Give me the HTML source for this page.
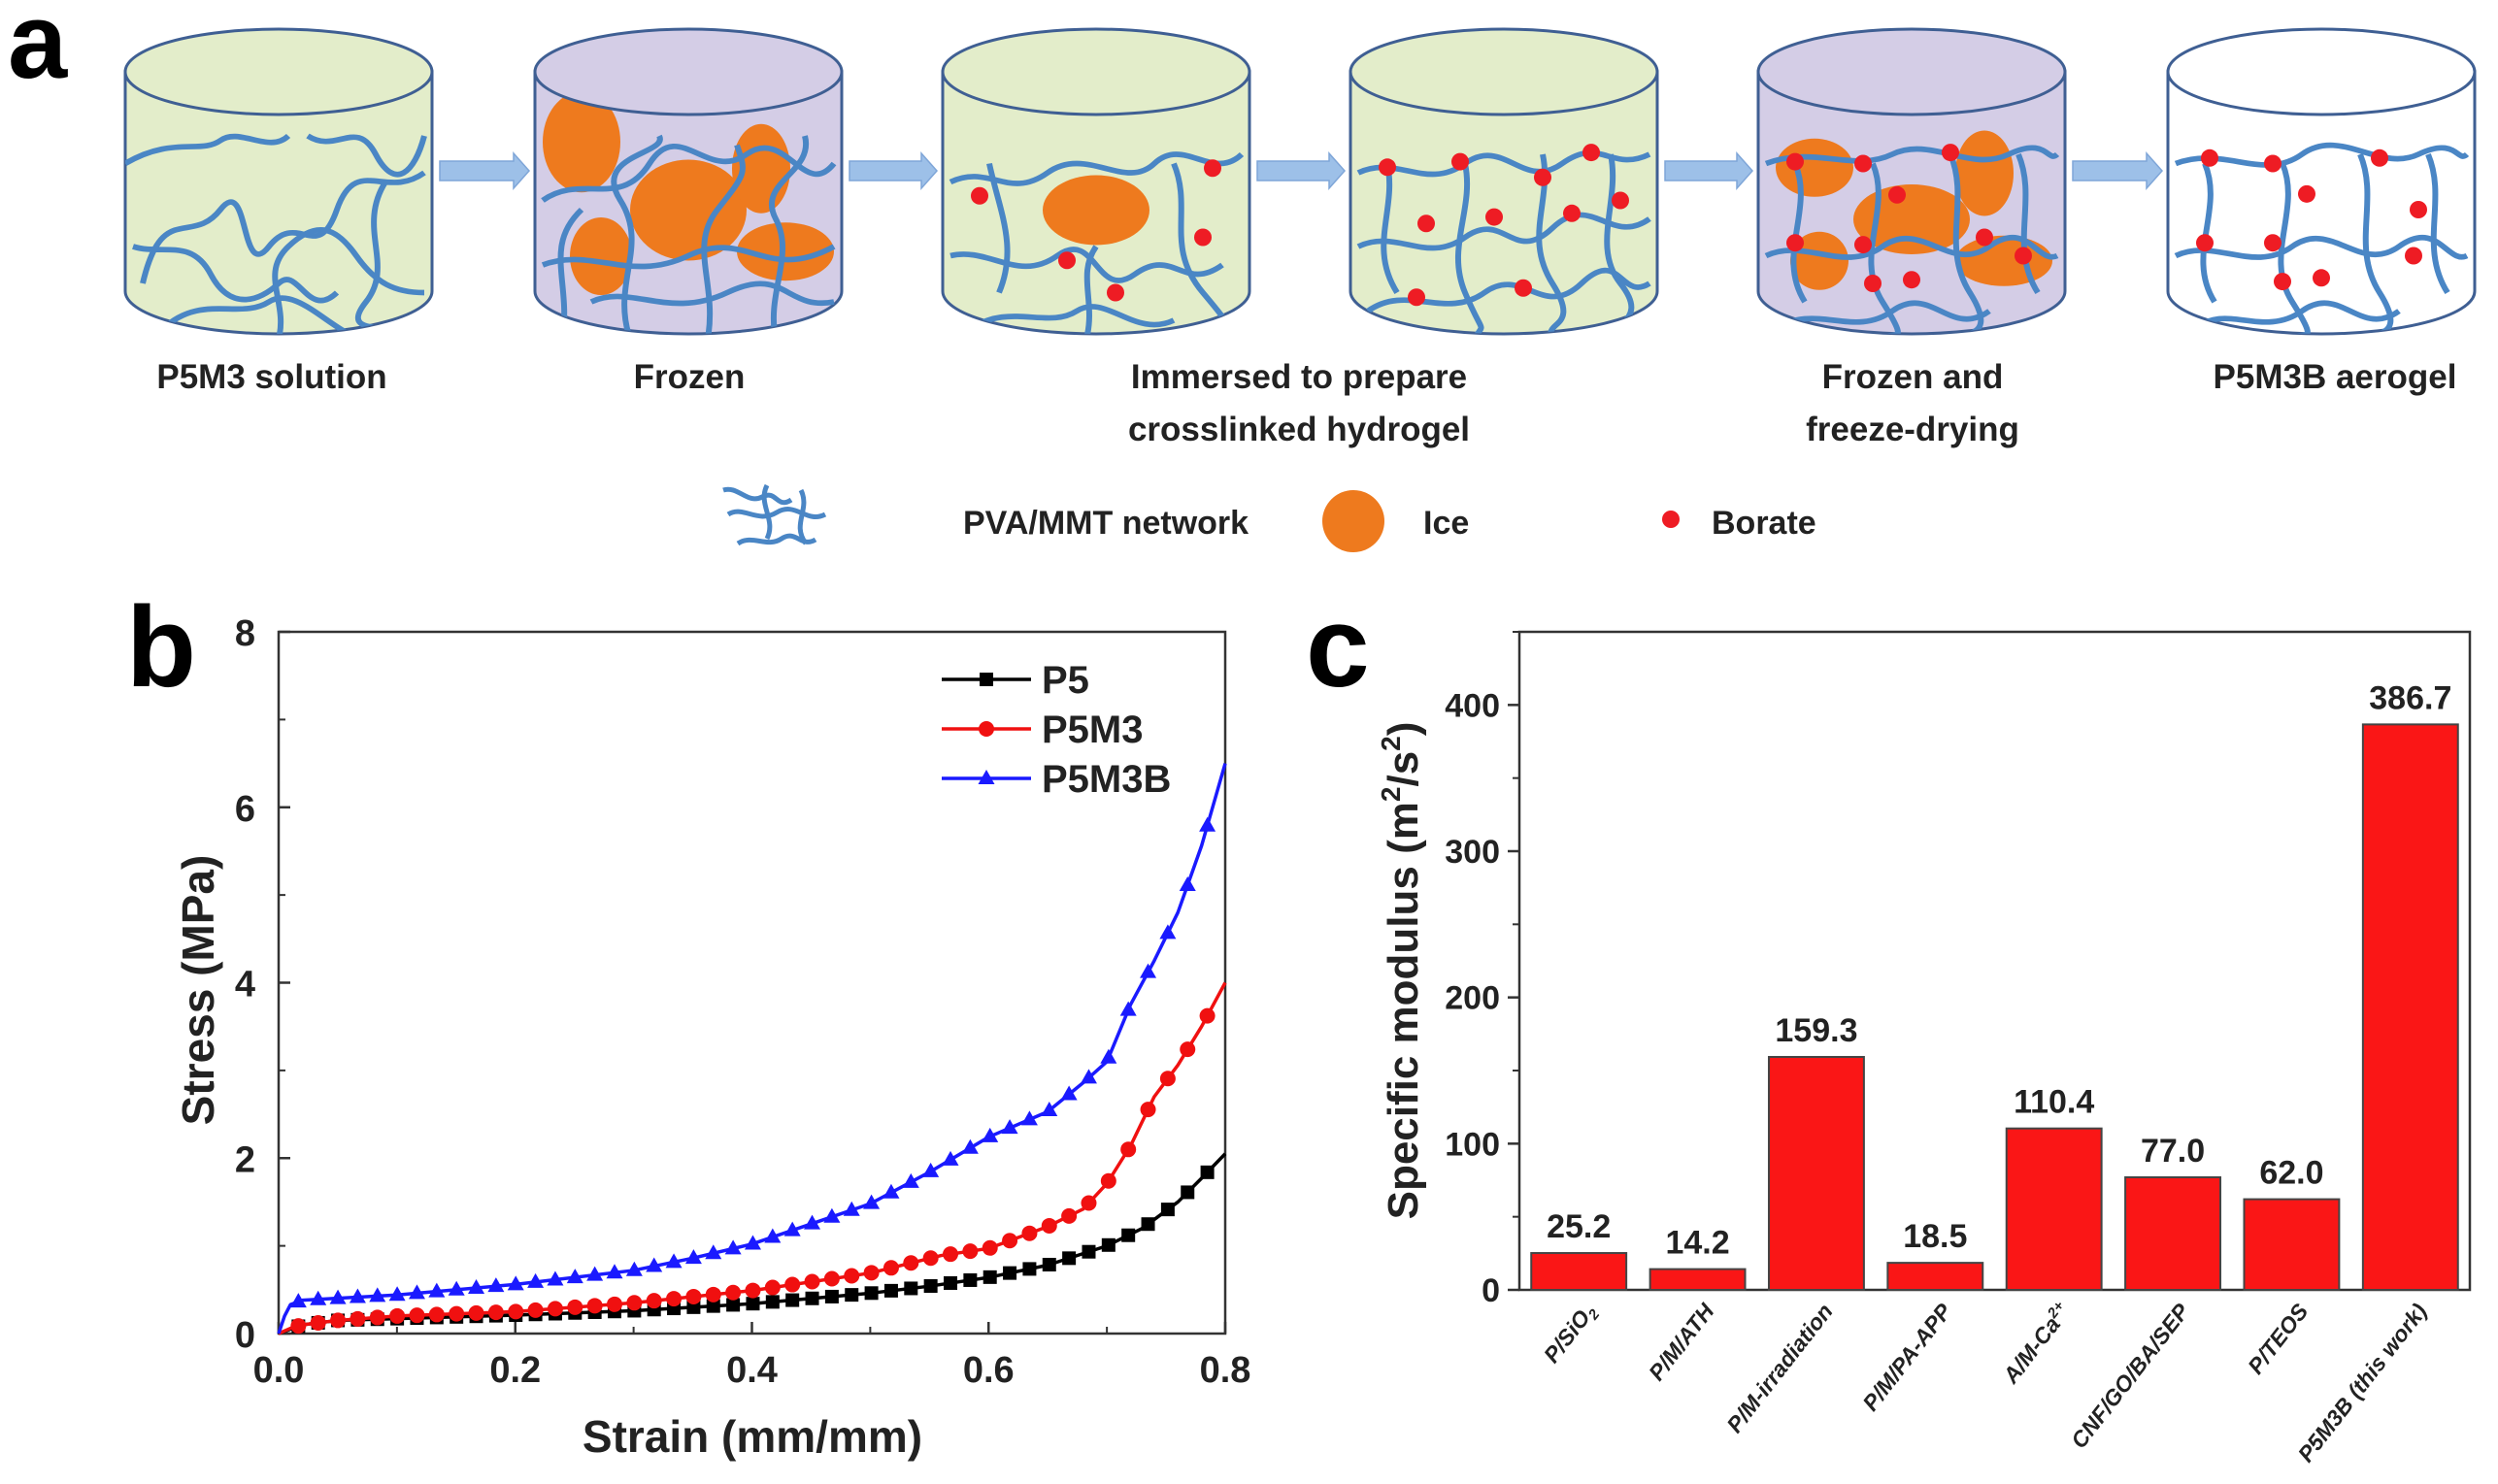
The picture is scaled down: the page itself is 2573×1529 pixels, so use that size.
<!DOCTYPE html>
<html><head><meta charset="utf-8"><style>
body{margin:0;background:#fff;width:2573px;height:1529px;overflow:hidden}
svg{display:block}
text{font-family:"Liberation Sans",Arial,sans-serif}
</style></head><body>
<svg id="fig" width="2573" height="1529" viewBox="0 0 2573 1529">
<g id="panelA"></g>
<g id="panelB"></g>
<g id="panelC"></g>
</svg>
<script>
// ---------- Panel b data ----------
const strainP5 = [0,0.01,0.02,0.05,0.1,0.2,0.3,0.4,0.5,0.55,0.6,0.65,0.7,0.73,0.76,0.78,0.8];
const stressP5 = [0,0.05,0.1,0.15,0.17,0.21,0.26,0.34,0.46,0.54,0.64,0.78,1.0,1.2,1.5,1.77,2.05];
const strainP5M3 = [0,0.01,0.02,0.05,0.1,0.2,0.3,0.4,0.5,0.56,0.6,0.65,0.68,0.7,0.72,0.74,0.76,0.78,0.8];
const stressP5M3 = [0,0.06,0.1,0.15,0.2,0.25,0.35,0.49,0.69,0.89,0.97,1.22,1.42,1.71,2.14,2.7,3.06,3.5,4.0];
const strainP5M3B = [0,0.005,0.01,0.02,0.1,0.2,0.3,0.35,0.4,0.45,0.5,0.55,0.6,0.65,0.68,0.7,0.72,0.74,0.76,0.78,0.8];
const stressP5M3B = [0,0.2,0.33,0.38,0.44,0.56,0.72,0.86,1.02,1.25,1.48,1.84,2.24,2.53,2.86,3.1,3.75,4.25,4.8,5.56,6.5];
const xTicksB = [0,0.2,0.4,0.6,0.8];
const xTickLabelsB = ["0.0","0.2","0.4","0.6","0.8"];
const yTicksB = [0,2,4,6,8];
const yTickLabelsB = ["0","2","4","6","8"];
// ---------- Panel c data ----------
const categoriesC = ["P/SiO","P/M/ATH","P/M-irradiation","P/M/PA-APP","A/M-Ca","CNF/GO/BA/SEP","P/TEOS","P5M3B (this work)"];
const valuesC = [25.2,14.2,159.3,18.5,110.4,77.0,62.0,386.7];
const valueLabelsC = ["25.2","14.2","159.3","18.5","110.4","77.0","62.0","386.7"];
const yTicksC = [0,100,200,300,400];
const yTickLabelsC = ["0","100","200","300","400"];

const NS="http://www.w3.org/2000/svg";
function mk(tag,attrs,parent){const e=document.createElementNS(NS,tag);for(const k in attrs)e.setAttribute(k,attrs[k]);if(parent)parent.appendChild(e);return e;}

// ================= Panel A =================
(function(){
const g=document.getElementById('panelA');
const t=mk('text',{x:8,y:80,'font-size':110,'font-weight':'bold'},g);t.textContent='a';


const centers=[287,709,1129,1549,1969,2391];
const fills=['#e3edca','#d4cde6','#e3edca','#e3edca','#d4cde6','#ffffff'];
const rx=158, topY=74, botY=300, ry=44;
const nets=[
 ["M-158,110 C-110,80 -80,100 -60,85 S-10,100 10,80","M-140,240 C-120,150 -90,200 -60,160 S-40,240 -10,200 S40,220 60,160 S110,150 150,120","M-150,200 C-120,210 -90,190 -70,230 S-20,260 0,240 S30,280 60,250","M-120,290 C-80,250 -40,280 -10,260 S60,300 90,300","M30,80 C60,100 80,60 100,100 S140,120 150,80","M0,300 C10,260 -20,230 10,200 S60,180 80,210 S120,250 150,250","M110,130 C80,180 120,220 90,260 S120,280 140,300"],
 ["M-150,150 C-110,120 -70,160 -40,110 S20,130 60,100 S120,150 150,110","M-130,300 C-120,240 -150,200 -110,160","M-60,300 C-80,240 -40,200 -70,150 S-20,100 -30,80","M-150,220 C-100,200 -60,240 0,210 S80,240 150,200","M20,300 C30,240 0,200 30,160 S60,120 50,90","M90,300 C80,250 110,210 90,170 S130,120 120,80","M-100,260 C-60,240 -20,280 40,250 S100,270 150,260"],
 ["M-150,130 C-110,110 -90,150 -50,120 S30,140 60,110 S120,130 150,100","M-150,210 C-110,200 -80,240 -40,210 S0,260 40,230 S90,250 130,220","M-130,290 C-90,260 -50,290 -20,270 S40,300 80,280","M-110,110 C-100,160 -80,200 -100,250","M80,110 C100,160 70,200 110,250 S130,280 140,300","M-10,300 C0,260 -20,230 0,200"],
 ["M-150,120 C-110,100 -80,140 -40,110 S20,140 60,110 S110,120 150,100","M-150,200 C-110,180 -80,220 -40,190 S10,220 50,180 S110,200 150,170","M-140,270 C-100,240 -60,280 -20,250 S40,280 80,240 S120,260 150,240","M-120,110 C-110,160 -140,200 -110,250","M-40,110 C-30,160 -60,200 -40,250 S-20,280 -30,300","M40,100 C50,150 20,190 50,240 S40,280 50,300","M110,100 C120,150 90,200 120,240 S110,280 120,300"],
 ["M-150,110 C-100,90 -60,120 -20,100 S60,120 100,100 S140,110 150,100","M-150,210 C-110,190 -70,230 -30,200 S40,230 80,200 S130,220 150,210","M-140,290 C-100,260 -60,300 -20,270 S40,300 80,270","M-120,110 C-100,160 -140,210 -110,260","M-40,110 C-20,160 -60,210 -30,260 S-20,290 -30,300","M40,100 C60,150 30,200 60,250 S50,290 60,300","M110,100 C130,150 100,200 130,250"],
 ["M-150,110 C-100,90 -60,130 -20,100 S60,120 100,100 S140,110 150,100","M-150,210 C-110,190 -70,230 -30,200 S40,230 80,200 S130,220 150,210","M-130,290 C-100,260 -60,300 -20,270 S40,300 80,270","M-120,110 C-100,160 -140,210 -110,260","M-40,110 C-20,160 -60,210 -30,260 S-20,290 -30,300","M40,100 C60,150 30,200 60,250 S50,290 60,300","M110,100 C130,150 100,200 130,250"]
];
const ices=[[],[[-110,76,40,52],[0,150,60,52],[75,105,30,46],[-90,200,32,40],[100,195,50,30]],[[0,150,55,36]],[],[[-100,104,40,30],[75,110,30,44],[0,160,60,36],[-95,205,30,30],[95,205,50,26]],[]];
const dots=[[],[],[[-120,145],[120,115],[110,190],[-30,215],[20,250]],[[-120,114],[-45,108],[40,125],[90,98],[-80,175],[-10,168],[70,164],[120,150],[-90,255],[20,245]],[[-120,108],[-50,110],[40,98],[-15,144],[-120,196],[-50,198],[75,190],[115,210],[-40,240],[0,236]],[[-115,104],[-50,110],[60,104],[-15,143],[-120,196],[-50,196],[100,160],[95,210],[-40,238],[0,234]]];
const labels=[["P5M3 solution"],["Frozen"],["Immersed to prepare","crosslinked hydrogel"],[],["Frozen and","freeze-drying"],["P5M3B aerogel"]];
const labelX=[280,710,1338,0,1970,2405];
const names=['p5m3-solution','frozen','crosslinked-hydrogel','hydrogel','frozen-freeze-dried','p5m3b-aerogel'];
centers.forEach((cx,i)=>{
  const cg=mk('g',{},g);
  
  
  mk('path',{d:`M${cx-rx},${topY} L${cx-rx},${botY} A${rx},${ry} 0 0 0 ${cx+rx},${botY} L${cx+rx},${topY} Z`,fill:fills[i],stroke:'#3f5f93','stroke-width':3},cg);
  const clip=mk('clipPath',{id:'cl'+i},cg);
  mk('path',{d:`M${cx-rx},${topY} L${cx-rx},${botY} A${rx},${ry} 0 0 0 ${cx+rx},${botY} L${cx+rx},${topY} Z`},clip);
  const inner=mk('g',{'clip-path':`url(#cl${i})`},cg);
  ices[i].forEach(e=>mk('ellipse',{cx:cx+e[0],cy:topY+e[1]*0.95,rx:e[2],ry:e[3],fill:'#ee7a1e'},inner));
  nets[i].forEach(d=>{
    mk('path',{d:d,fill:'none',stroke:'#4a86c5','stroke-width':6,transform:`translate(${cx},${topY-10}) scale(1,0.95)`},inner);
  });
  dots[i].forEach(d=>mk('circle',{cx:cx+d[0],cy:topY-10+d[1]*0.95,r:9,fill:'#ee1c24'},inner));
  mk('ellipse',{cx:cx,cy:topY,rx:rx,ry:ry,fill:fills[i],stroke:'#3f5f93','stroke-width':3},cg);
  labels[i].forEach((s,j)=>{
    const tt=mk('text',{x:labelX[i],y:400+j*54,'font-size':35,'font-weight':'bold','text-anchor':'middle',fill:'#222'},g);
    tt.textContent=s;
    
    
  });
  if(i<5){
    const ax=cx+rx+8, bx=centers[i+1]-rx-6, ay=176;
    const ar=mk('path',{d:`M${ax},${ay-10} L${bx-16},${ay-10} L${bx-16},${ay-18} L${bx},${ay} L${bx-16},${ay+18} L${bx-16},${ay+10} L${ax},${ay+10} Z`,fill:'#9dc0e8',stroke:'#7fa6d8','stroke-width':1.5},g);
    
    
  }
});
const lg=mk('g',{},g);


["M745,505 C760,500 770,520 785,512 S800,525 815,515","M750,530 C765,520 780,540 800,528 S830,540 850,530","M760,560 C775,550 790,565 805,555 S825,565 840,556","M790,500 C780,520 800,535 790,555","M825,505 C835,525 815,540 830,560"].forEach(d=>mk('path',{d:d,fill:'none',stroke:'#4a86c5','stroke-width':5},lg));
let lt=mk('text',{x:992,y:550,'font-size':34,'font-weight':'bold',fill:'#222'},lg);lt.textContent='PVA/MMT network';
mk('ellipse',{cx:1394,cy:537,rx:32,ry:32,fill:'#ee7a1e'},lg);
lt=mk('text',{x:1466,y:550,'font-size':34,'font-weight':'bold',fill:'#222'},lg);lt.textContent='Ice';
mk('circle',{cx:1721,cy:535,r:9,fill:'#ee1c24'},lg);
lt=mk('text',{x:1763,y:550,'font-size':34,'font-weight':'bold',fill:'#222'},lg);lt.textContent='Borate';
})();

// ================= Panel B =================
(function(){
const g=document.getElementById('panelB');
const X0=287,X1=1262,Y0=1374,Y1=651;
const xs=v=>X0+(v-0)/(0.8-0)*(X1-X0);
const ys=v=>Y0-(v-0)/(8-0)*(Y0-Y1);
let t=mk('text',{x:130,y:707,'font-size':118,'font-weight':'bold'},g);t.textContent='b';

const fr=mk('rect',{x:X0,y:Y1,width:X1-X0,height:Y0-Y1,fill:'none',stroke:'#333','stroke-width':2.5},g);

xTicksB.forEach((v,i)=>{
  mk('line',{x1:xs(v),x2:xs(v),y1:Y0,y2:Y0-12,stroke:'#333','stroke-width':2.5},g);
  if(i<xTicksB.length-1) mk('line',{x1:xs(v+0.1),x2:xs(v+0.1),y1:Y0,y2:Y0-7,stroke:'#333','stroke-width':2},g);
  const tl=mk('text',{x:xs(v),y:Y0+50,'font-size':38,'font-weight':'bold','text-anchor':'middle',fill:'#222'},g);
  tl.textContent=xTickLabelsB[i];
  
});
yTicksB.forEach((v,i)=>{
  mk('line',{x1:X0,x2:X0+12,y1:ys(v),y2:ys(v),stroke:'#333','stroke-width':2.5},g);
  if(i<yTicksB.length-1) mk('line',{x1:X0,x2:X0+7,y1:ys(v+1),y2:ys(v+1),stroke:'#333','stroke-width':2},g);
  const tl=mk('text',{x:X0-24,y:ys(v)+14,'font-size':38,'font-weight':'bold','text-anchor':'end',fill:'#222'},g);
  tl.textContent=yTickLabelsB[i];
  
});
t=mk('text',{x:775,y:1496,'font-size':46,'font-weight':'bold','text-anchor':'middle',fill:'#222'},g);t.textContent='Strain (mm/mm)';

t=mk('text',{x:0,y:0,'font-size':46,'font-weight':'bold','text-anchor':'middle',fill:'#222',transform:'translate(220,1020) rotate(-90)'},g);t.textContent='Stress (MPa)';

const series=[
 {n:'p5',sx:strainP5,sy:stressP5,c:'#000',m:'sq'},
 {n:'p5m3',sx:strainP5M3,sy:stressP5M3,c:'#f01010',m:'ci'},
 {n:'p5m3b',sx:strainP5M3B,sy:stressP5M3B,c:'#1a1aff',m:'tr'}];
function marker(par,m,x,y,c){
  let e;
  if(m==='sq') e=mk('rect',{x:x-7,y:y-7,width:14,height:14,fill:c},par);
  else if(m==='ci') e=mk('circle',{cx:x,cy:y,r:8,fill:c},par);
  else e=mk('path',{d:`M${x},${y-9} L${x+8.5},${y+6} L${x-8.5},${y+6} Z`,fill:c},par);
  return e;
}
function interp(sx,sy,v){for(let i=1;i<sx.length;i++){if(v<=sx[i]){const f=(v-sx[i-1])/(sx[i]-sx[i-1]);return sy[i-1]+f*(sy[i]-sy[i-1]);}}return sy[sy.length-1];}
series.forEach(s=>{
  const sg=mk('g',{},g);
  
  const pts=s.sx.map((v,i)=>xs(v)+','+ys(s.sy[i])).join(' ');
  const pl=mk('polyline',{points:pts,fill:'none',stroke:s.c,'stroke-width':3.5,'stroke-linejoin':'round'},sg);
  
  const maxX=s.sx[s.sx.length-1];
  for(let k=1;k<=48;k++){const v=0.0167*k; if(v>maxX+1e-6) break;
    const mm=marker(sg,s.m,xs(v),ys(interp(s.sx,s.sy,v)),s.c);
    }
});
const leg=mk('g',{},g);

series.forEach((s,i)=>{
  const y=700+i*51;
  const le=mk('g',{},leg);
  
  mk('line',{x1:970,x2:1062,y1:y,y2:y,stroke:s.c,'stroke-width':3.5},le);
  marker(le,s.m,1016,y,s.c);
  const tx=mk('text',{x:1073,y:y+14,'font-size':40,'font-weight':'bold',fill:'#222'},le);
  tx.textContent=['P5','P5M3','P5M3B'][i];
});
})();

// ================= Panel C =================
(function(){
const g=document.getElementById('panelC');
const X0=1565,X1=2544,Y0=1329,Y1=651,YMAX=450;
const ys=v=>Y0-v/YMAX*(Y0-Y1);
const band=(X1-X0)/categoriesC.length;
const xc=i=>X0+band*(i+0.5);
let t=mk('text',{x:1345,y:707,'font-size':118,'font-weight':'bold'},g);t.textContent='c';

const fr=mk('rect',{x:X0,y:Y1,width:X1-X0,height:Y0-Y1,fill:'none',stroke:'#333','stroke-width':2.5},g);

yTicksC.forEach((v,i)=>{
  mk('line',{x1:X0-12,x2:X0,y1:ys(v),y2:ys(v),stroke:'#333','stroke-width':2.5},g);
  mk('line',{x1:X0-7,x2:X0,y1:ys(v+50),y2:ys(v+50),stroke:'#333','stroke-width':2},g);
  const tl=mk('text',{x:X0-20,y:ys(v)+12,'font-size':34,'font-weight':'bold','text-anchor':'end',fill:'#222'},g);
  tl.textContent=yTickLabelsC[i];
  
});
t=mk('text',{x:0,y:0,'font-size':44,'font-weight':'bold','text-anchor':'middle',fill:'#222',transform:'translate(1460,1000) rotate(-90)'},g);
t.innerHTML='Specific modulus (m<tspan font-size="28" dy="-18">2</tspan><tspan dy="18">/s</tspan><tspan font-size="28" dy="-18">2</tspan><tspan dy="18">)</tspan>';

valuesC.forEach((v,i)=>{
  const b=mk('rect',{x:xc(i)-band*0.4,y:ys(v),width:band*0.8,height:Y0-ys(v),fill:'#fa1616',stroke:'#444','stroke-width':2},g);
  
  const vl=mk('text',{x:xc(i),y:ys(v)-16,'font-size':34,'font-weight':'bold','text-anchor':'middle',fill:'#222'},g);
  vl.textContent=valueLabelsC[i];
  
  const cl=mk('text',{x:0,y:0,'font-size':23,'font-weight':'bold','font-style':'italic','text-anchor':'end',fill:'#222',transform:`translate(${xc(i)+18},${Y0+22}) rotate(-52)`},g);
  cl.textContent=categoriesC[i];
  if(i===0){const s=mk('tspan',{'font-size':15,dy:5},cl);s.textContent='2';}
  if(i===4){const s=mk('tspan',{'font-size':15,dy:-9},cl);s.textContent='2+';}
  
});
})();
</script>
</body></html>
